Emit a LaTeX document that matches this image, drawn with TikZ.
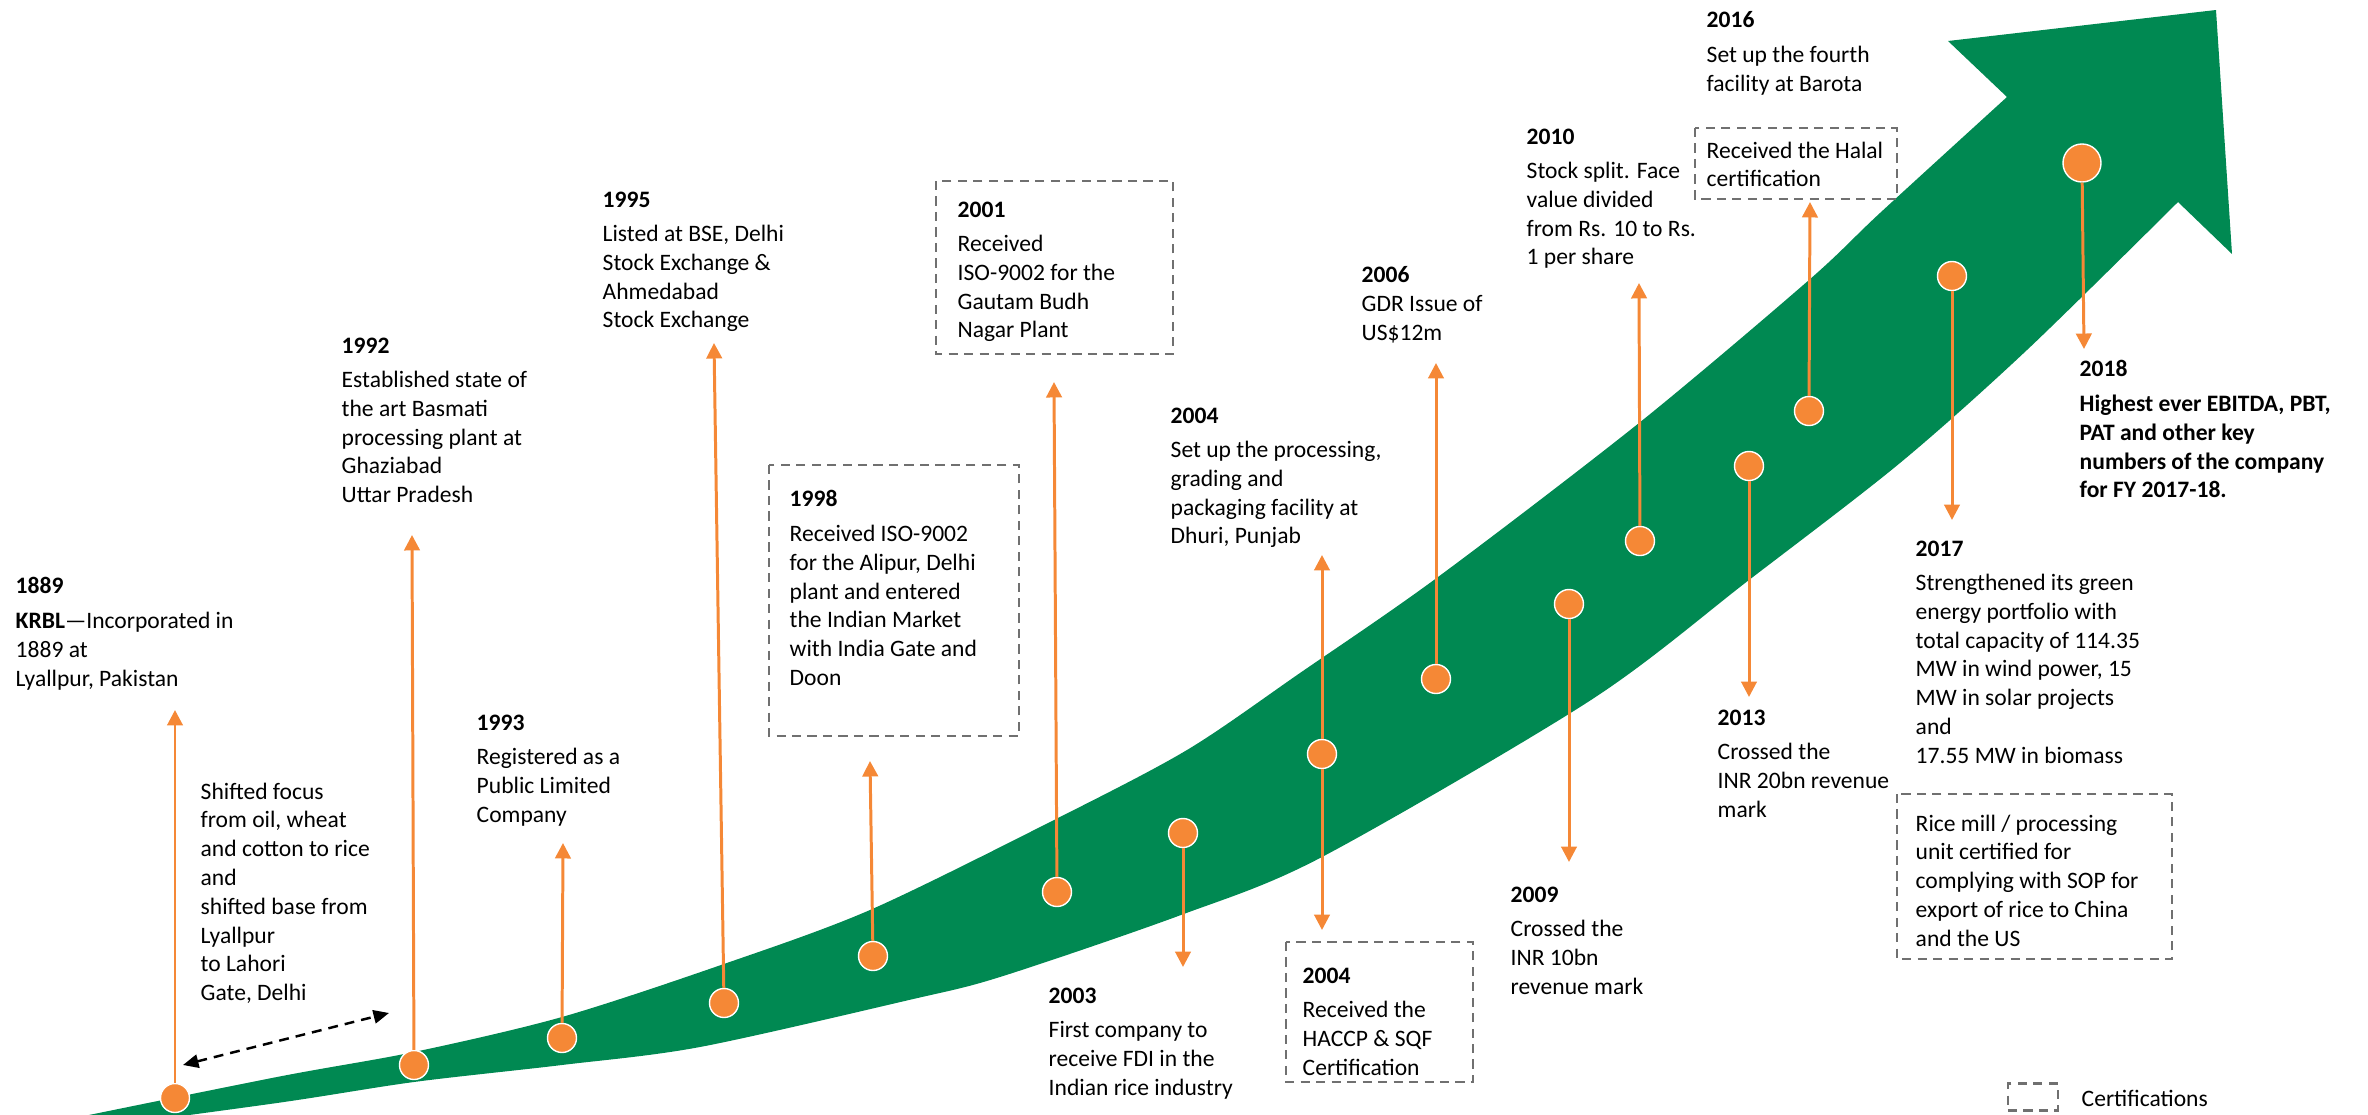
\documentclass[tikz,border=0pt]{standalone}
\usepackage{fontspec}
\setmainfont{Carlito}
\usetikzlibrary{arrows.meta}

\definecolor{krblgreen}{RGB}{0,137,82}
\definecolor{krblorange}{RGB}{245,136,54}
\definecolor{certgray}{RGB}{112,112,112}

\newcommand{\yr}[1]{\textbf{#1}\\[1.6pt]}

\begin{document}
\begin{tikzpicture}[x=0.01cm,y=-0.01cm,
  every node/.style={inner sep=0pt,font=\fontsize{6.7}{8.19}\selectfont},
  evtext/.style={anchor=north west,align=left},
  dot/.style={circle,fill=krblorange,draw=white,line width=0.4pt,minimum size=0.29cm},
  bigdot/.style={dot,minimum size=0.38cm},
  evarrow/.style={krblorange,line width=0.85pt,-{Triangle[width=4.4pt,length=4.4pt]}},
  shiftarrow/.style={black,line width=0.7pt,dash pattern=on 2.8pt off 2pt,{Triangle[width=3.8pt,length=4.4pt]}-{Triangle[width=3.8pt,length=4.4pt]}},
  certbox/.style={draw=certgray,line width=0.6pt,dash pattern=on 2.6pt off 1.8pt}]

\useasboundingbox (0,0) rectangle (2368,1115);

% growth arrow
\fill[krblgreen] plot[smooth] coordinates {(40,1125) (277,1077) (414,1052) (562,1017) (721,965) (870,910) (1054,820) (1187,750) (1300,673) (1438,577) (1639,423) (1809,280) (1880,213) (2007,97)}
  -- (1948,41) -- (2216,10) -- (2232,254) -- (2178,202)
  -- plot[smooth] coordinates {(2178,202) (2027,350) (1900,463) (1749,580) (1591,700) (1322,857) (1181,915) (1000,977) (909,1000) (700,1047) (562,1065) (414,1082) (277,1103) (40,1135)} -- cycle;

% milestones on the arrow
\foreach \n/\x/\y in {1889/175/1098,1992/414/1065,1993/562/1038,1995/724/1003,1998/873/956,
    2001/1057/892,2003/1183/833,2004/1322/754,2006/1436/679,2009/1569/604,2010/1640/541,
    2013/1749/466,2016/1809/411,2017/1952/276}
  \node[dot] (d\n) at (\x,\y) {};
\node[bigdot] (d2018) at (2082,163) {};

\foreach \n/\x/\y in {1889/175/710,1992/412/535,1993/563/843,1995/714/343,1998/870/761,
    2001/1054/382,2003/1183/967,2004u/1322/555,2004d/1322/930,2006/1436/363,2009/1569/862,
    2010/1639/283,2013/1749/697,2016/1810/202,2017/1952/520,2018/2084/349}
  \coordinate (t\n) at (\x,\y);

\foreach \from/\to in {d1889/t1889,d1992/t1992,d1993/t1993,d1995/t1995,d1998/t1998,
    d2001/t2001,d2003/t2003,d2004/t2004u,d2004/t2004d,d2006/t2006,d2009/t2009,
    d2010/t2010,d2013/t2013,d2016/t2016,d2017/t2017,d2018/t2018}
  \draw[evarrow] (\from) -- (\to);

\coordinate (sa) at (183,1065);
\coordinate (sb) at (389,1013);
\draw[shiftarrow] (sa) -- (sb);

% texts
\node[evtext] (e1889) at (15,577) {\yr{1889}\textbf{KRBL}—Incorporated in\\1889 at\\Lyallpur, Pakistan};
\node[evtext] (shift) at (200,782) {Shifted focus\\from oil, wheat\\and cotton to rice\\and\\shifted base from\\Lyallpur\\to Lahori\\Gate, Delhi};
\node[evtext] (e1992) at (341,337) {\yr{1992}Established state of\\the art Basmati\\processing plant at\\Ghaziabad\\Uttar Pradesh};
\node[evtext] (e1993) at (476,714) {\yr{1993}Registered as a\\Public Limited\\Company};
\node[evtext] (e1995) at (602,191) {\yr{1995}Listed at BSE, Delhi\\Stock Exchange \&\\Ahmedabad\\Stock Exchange};
\node[evtext] (e1998) at (789,490) {\yr{1998}Received ISO-9002\\for the Alipur, Delhi\\plant and entered\\the Indian Market\\with India Gate and\\Doon};
\node[evtext] (e2001) at (957,201) {\yr{2001}Received\\ISO-9002 for the\\Gautam Budh\\Nagar Plant};
\node[evtext] (e2003) at (1048,987) {\yr{2003}First company to\\receive FDI in the\\Indian rice industry};
\node[evtext] (e2004a) at (1170,407) {\yr{2004}Set up the processing,\\grading and\\packaging facility at\\Dhuri, Punjab};
\node[evtext] (e2004b) at (1302,967) {\yr{2004}Received the\\HACCP \& SQF\\Certification};
\node[evtext] (e2006) at (1361,266) {\textbf{2006}\\GDR Issue of\\US\$12m};
\node[evtext] (e2009) at (1510,886) {\yr{2009}Crossed the\\INR 10bn\\revenue mark};
\node[evtext] (e2010) at (1526,128) {\yr{2010}Stock split. Face\\value divided\\from Rs. 10 to Rs.\\1 per share};
\node[evtext] (e2013) at (1717,709) {\yr{2013}Crossed the\\INR 20bn revenue\\mark};
\node[evtext] (e2016) at (1706,11) {\yr{2016}Set up the fourth\\facility at Barota};
\node[evtext] (halal) at (1706,141) {Received the Halal\\certification};
\node[evtext] (e2017) at (1915,540) {\yr{2017}Strengthened its green\\energy portfolio with\\total capacity of 114.35\\MW in wind power, 15\\MW in solar projects\\and\\17.55 MW in biomass};
\node[evtext] (rice) at (1915,814) {Rice mill / processing\\unit certified for\\complying with SOP for\\export of rice to China\\and the US};
\node[evtext,font=\fontsize{6.7}{8.19}\selectfont\bfseries] (e2018) at (2079,360) {2018\\[1.6pt]Highest ever EBITDA, PBT,\\PAT and other key\\numbers of the company\\for FY 2017-18.};

% certification boxes
\draw[certbox] (769,465) rectangle (1019,736);
\draw[certbox] (936,181) rectangle (1173,354);
\draw[certbox] (1286,942) rectangle (1473,1082);
\draw[certbox] (1695,128) rectangle (1897,199);
\draw[certbox] (1897,794) rectangle (2172,959);

\node[certbox,minimum width=0.5cm,minimum height=0.27cm] (legbox) at (2033,1097) {};
\node[anchor=west] (legtext) at (2081,1098) {Certifications};

\end{tikzpicture}
\end{document}
